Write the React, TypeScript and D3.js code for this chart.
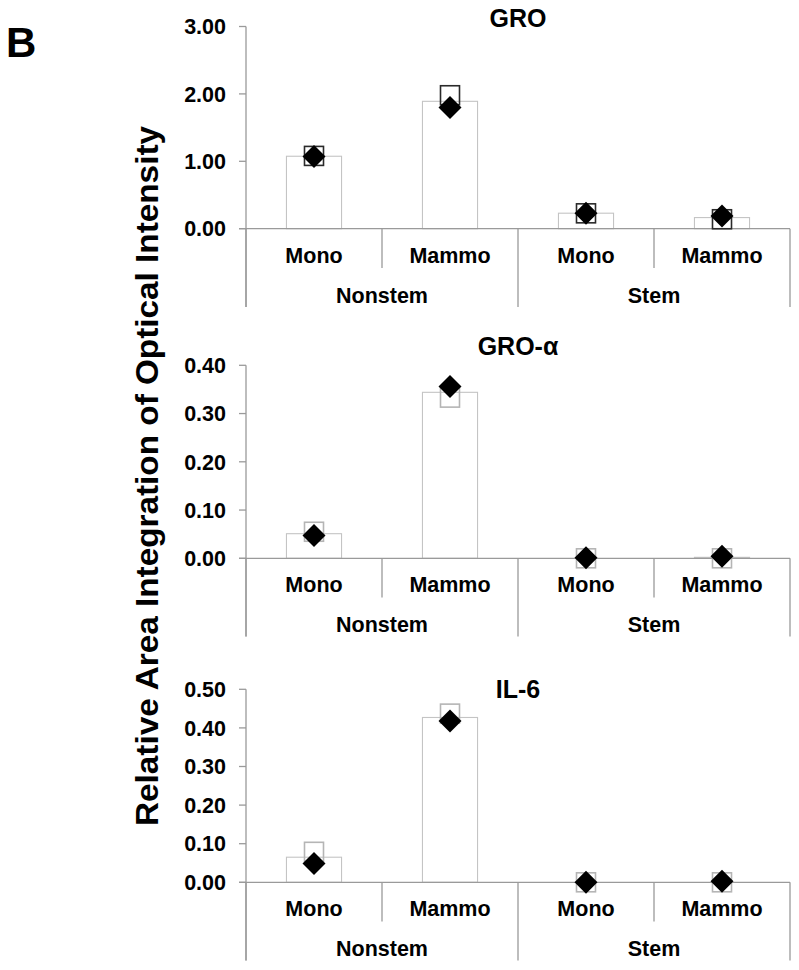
import React from "react";
import * as d3 from "d3";

// ---- Data ----
const categories = ["Mono", "Mammo", "Mono", "Mammo"];
const groups = ["Nonstem", "Stem"];
const panelTitles = ["GRO", "GRO-α", "IL-6"];
const yMax = [3, 0.4, 0.5];
const yStep = [1, 0.1, 0.1];

// bar = mean, squares & diamonds = individual replicates
const groBars = [1.075, 1.89, 0.23, 0.165];
const groSquares = [1.08, 1.98, 0.228, 0.14];
const groDiamonds = [1.07, 1.8, 0.23, 0.19];

const groaBars = [0.051, 0.344, 0.0, 0.002];
const groaSquares = [0.055, 0.333, 0.0, 0.0];
const groaDiamonds = [0.047, 0.356, 0.001, 0.004];

const il6Bars = [0.065, 0.427, 0.0, 0.0];
const il6Squares = [0.079, 0.437, 0.0, 0.0];
const il6Diamonds = [0.049, 0.418, 0.0, 0.003];

const barsAll = [groBars, groaBars, il6Bars];
const squaresAll = [groSquares, groaSquares, il6Squares];
const diamondsAll = [groDiamonds, groaDiamonds, il6Diamonds];

// ---- Layout ----
const W = 799;
const H = 970;
const AXIS_X = 246;
const RIGHT_X = 790;
const panelTop = [26.5, 365.3, 689.3];
const panelZero = [228.7, 558.3, 882.3];
const titleBaseline = [27, 355, 698];
const squareColor = ["#2a2a2a", "#b5b5b5", "#b5b5b5"];

const FONT = "'Liberation Sans', Arial, Helvetica, sans-serif";
const AXIS_COLOR = "#9a9a9a";
const BAR_STROKE = "#c4c4c4";

function Panel({ i }: { i: number }) {
  const y = d3.scaleLinear().domain([0, yMax[i]]).range([panelZero[i], panelTop[i]]);
  const x = d3
    .scaleBand<number>()
    .domain(d3.range(categories.length))
    .range([AXIS_X, RIGHT_X])
    .paddingInner(0)
    .paddingOuter(0);
  const bw = x.bandwidth();
  const barW = bw * 0.405;
  const ticks = d3.range(0, yMax[i] + yStep[i] / 2, yStep[i]);
  const zero = y(0);
  const sq = 19;
  const dh = 11.5;
  const fmt = d3.format(".2f");
  const groupW = (RIGHT_X - AXIS_X) / groups.length;

  return (
    <g>
      <text
        x={(AXIS_X + RIGHT_X) / 2}
        y={titleBaseline[i]}
        textAnchor="middle"
        fontFamily={FONT}
        fontWeight="bold"
        fontSize={25}
        fill="#000"
      >
        {panelTitles[i]}
      </text>
      {/* y axis */}
      <line x1={AXIS_X} x2={AXIS_X} y1={y(yMax[i])} y2={zero + 78.3} stroke={AXIS_COLOR} strokeWidth={1.3} />
      {ticks.map((t, k) => (
        <g key={k}>
          <line x1={AXIS_X - 7} x2={AXIS_X} y1={y(t)} y2={y(t)} stroke={AXIS_COLOR} strokeWidth={1.3} />
          <text
            x={226}
            y={y(t)}
            dy="0.36em"
            textAnchor="end"
            fontFamily={FONT}
            fontWeight="bold"
            fontSize={21.5}
            fill="#000"
          >
            {fmt(t)}
          </text>
        </g>
      ))}
      {/* bars */}
      {barsAll[i].map((v, k) => (
        <rect
          key={k}
          x={x(k)! + bw / 2 - barW / 2}
          y={y(v)}
          width={barW}
          height={Math.max(0, zero - y(v))}
          fill="#fff"
          stroke={BAR_STROKE}
          strokeWidth={1.1}
        />
      ))}
      {/* x axis */}
      <line x1={AXIS_X - 7} x2={RIGHT_X} y1={zero} y2={zero} stroke={AXIS_COLOR} strokeWidth={1.3} />
      {categories.map((c, k) =>
        k % 2 === 1 ? (
          <line key={"d" + k} x1={x(k)!} x2={x(k)!} y1={zero} y2={zero + 39.3} stroke={AXIS_COLOR} strokeWidth={1.3} />
        ) : null
      )}
      {d3.range(groups.length + 1).map((g) => (
        <line
          key={"g" + g}
          x1={AXIS_X + g * groupW}
          x2={AXIS_X + g * groupW}
          y1={zero}
          y2={zero + 78.3}
          stroke={AXIS_COLOR}
          strokeWidth={1.3}
        />
      ))}
      {categories.map((c, k) => (
        <text
          key={"c" + k}
          x={x(k)! + bw / 2}
          y={zero + 34}
          textAnchor="middle"
          fontFamily={FONT}
          fontWeight="bold"
          fontSize={21.5}
          fill="#000"
        >
          {c}
        </text>
      ))}
      {groups.map((g, k) => (
        <text
          key={"gl" + k}
          x={AXIS_X + (k + 0.5) * groupW}
          y={zero + 74}
          textAnchor="middle"
          fontFamily={FONT}
          fontWeight="bold"
          fontSize={21.5}
          fill="#000"
        >
          {g}
        </text>
      ))}
      {/* squares */}
      {squaresAll[i].map((v, k) => (
        <rect
          key={"s" + k}
          x={x(k)! + bw / 2 - sq / 2}
          y={y(v) - sq / 2}
          width={sq}
          height={sq}
          fill="none"
          stroke={squareColor[i]}
          strokeWidth={1.6}
        />
      ))}
      {/* diamonds */}
      {diamondsAll[i].map((v, k) => {
        const cx = x(k)! + bw / 2;
        const cy = y(v);
        return (
          <path
            key={"dm" + k}
            d={`M${cx},${cy - dh}L${cx + dh},${cy}L${cx},${cy + dh}L${cx - dh},${cy}Z`}
            fill="#000"
          />
        );
      })}
    </g>
  );
}

export default function App() {
  return (
    <div style={{ position: "absolute", left: 0, top: 0 }}>
      <svg width={W} height={H} style={{ display: "block", background: "#fff" }}>
        <rect width={W} height={H} fill="#fff" />
        <text x={6} y={57} fontFamily={FONT} fontWeight="bold" fontSize={42} fill="#000">
          B
        </text>
        <text
          transform={`translate(158,476) rotate(-90)`}
          textAnchor="middle"
          fontFamily={FONT}
          fontWeight="bold"
          fontSize={31}
          textLength={700}
          lengthAdjust="spacingAndGlyphs"
          fill="#000"
        >
          Relative Area Integration of Optical Intensity
        </text>
        {[0, 1, 2].map((i) => (
          <Panel key={i} i={i} />
        ))}
      </svg>
    </div>
  );
}
